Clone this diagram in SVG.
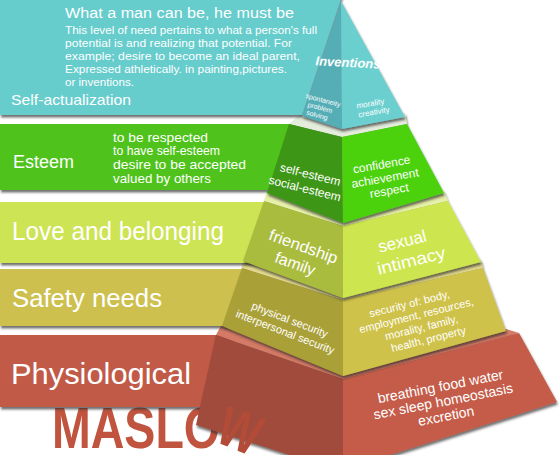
<svg xmlns="http://www.w3.org/2000/svg" width="559" height="455" viewBox="0 0 559 455">
<defs>
<filter id="sh" x="-5%" y="-10%" width="110%" height="130%">
<feDropShadow dx="1" dy="2.5" stdDeviation="1" flood-color="#222" flood-opacity="0.65"/>
</filter>
<clipPath id="below"><rect x="0" y="407" width="559" height="48"/></clipPath>
</defs>
<style>
text{font-family:"Liberation Sans",Arial,sans-serif;fill:#fff}
.lbl{font-size:25px}
.face{font-size:11px}
.mid{text-anchor:middle}
</style>
<rect width="559" height="455" fill="#fff"/>

<g id="maslow">
<text x="52" y="448" font-size="57" font-weight="bold" textLength="168" lengthAdjust="spacingAndGlyphs" style="fill:#c0543f">MASLO</text>
</g>

<g id="physiological">
<rect x="0" y="335" width="230" height="72" fill="#c15a46" filter="url(#sh)"/>
<text class="lbl" x="11" y="384" textLength="180" lengthAdjust="spacingAndGlyphs" style="font-size:29px">Physiological</text>
<g filter="url(#sh)">
<polygon points="216,335 222,324 506,329 519,333 343,379" fill="#d47a66"/>
<polygon points="216,335 343,379 343,472 196,425" fill="#a04b3a"/>
<polygon points="343,379 519,333 557,402 343,470" fill="#c45c48"/>
</g>
<g transform="rotate(-11 443 400)">
<text class="mid" x="443" y="391" style="font-size:14px">breathing food water</text>
<text class="mid" x="443" y="406" style="font-size:14px">sex sleep homeostasis</text>
<text class="mid" x="443" y="421" style="font-size:14px">excretion</text>
</g>
<g clip-path="url(#below)">
<text x="240" y="450" transform="rotate(22 240 430)" text-anchor="middle" font-size="57" font-weight="bold" textLength="42" lengthAdjust="spacingAndGlyphs" style="fill:#b24b37">W</text>
</g>
</g>

<g id="safety">
<rect x="0" y="269" width="250" height="57" fill="#cdc050" filter="url(#sh)"/>
<text class="lbl" x="12" y="307" textLength="150" lengthAdjust="spacingAndGlyphs">Safety needs</text>
<g filter="url(#sh)">
<polygon points="242,268 243,259 481,260 483,268 343,300" fill="#e2d98e"/>
<polygon points="242,268 343,300 343,376 222,326" fill="#aaa037"/>
<polygon points="343,300 483,268 506,331 343,376" fill="#cfc24c"/>
</g>
<g transform="rotate(21 287 327)">
<text class="face mid" x="287" y="323">physical security</text>
<text class="face mid" x="287" y="336">interpersonal security</text>
</g>
<g transform="rotate(-14 418 322)">
<text class="face mid" x="414" y="306">security of: body,</text>
<text class="face mid" x="418" y="319">employment, resources,</text>
<text class="face mid" x="420" y="332">morality, family,</text>
<text class="face mid" x="424" y="345">health, property</text>
</g>
</g>

<g id="love">
<rect x="0" y="202" width="270" height="61" fill="#cde455" filter="url(#sh)"/>
<text class="lbl" x="12" y="240" textLength="212" lengthAdjust="spacingAndGlyphs">Love and belonging</text>
<g filter="url(#sh)">
<polygon points="264,201 267,191 444,191 448,201 343,226" fill="#e6f0a8"/>
<polygon points="264,201 343,226 343,298 243,261" fill="#aabc3c"/>
<polygon points="343,226 448,201 481,262 343,298" fill="#cde64f"/>
</g>
<g transform="rotate(20 299 256)">
<text class="mid" x="300" y="251" style="font-size:16px" textLength="72" lengthAdjust="spacingAndGlyphs">friendship</text>
<text class="mid" x="298" y="270" style="font-size:16px">family</text>
</g>
<g transform="rotate(-14 408 252)">
<text class="mid" x="405" y="246" style="font-size:17px">sexual</text>
<text class="mid" x="409" y="267" style="font-size:17px" textLength="70" lengthAdjust="spacingAndGlyphs">intimacy</text>
</g>
</g>

<g id="esteem">
<rect x="0" y="124" width="300" height="66" fill="#50c31e" filter="url(#sh)"/>
<text x="13" y="168" style="font-size:18px" textLength="61" lengthAdjust="spacingAndGlyphs">Esteem</text>
<text x="113" y="142" style="font-size:12px" textLength="95" lengthAdjust="spacingAndGlyphs">to be respected</text>
<text x="113" y="155" style="font-size:12px" textLength="107" lengthAdjust="spacingAndGlyphs">to have self-esteem</text>
<text x="113" y="169" style="font-size:12px" textLength="133" lengthAdjust="spacingAndGlyphs">desire to be accepted</text>
<text x="113" y="183" style="font-size:12px" textLength="98" lengthAdjust="spacingAndGlyphs">valued by others</text>
<g filter="url(#sh)">
<polygon points="289,124 302,113 405,113 407,124 342,137" fill="#e4ecdc"/>
<polygon points="289,124 342,137 343,223 267,193" fill="#3c9614"/>
<polygon points="342,137 407,124 444,193 343,223" fill="#4bd20a"/>
</g>
<g transform="rotate(14 307 184)">
<text class="mid" x="308" y="178" style="font-size:12px">self-esteem</text>
<text class="mid" x="306" y="193" style="font-size:12px">social-esteem</text>
</g>
<g transform="rotate(-10 386 178)">
<text class="mid" x="384" y="168" style="font-size:12px">confidence</text>
<text class="mid" x="385" y="182" style="font-size:12px">achievement</text>
<text class="mid" x="387" y="195" style="font-size:12px">respect</text>
</g>
</g>

<g id="self-actualization">
<polygon points="0,-4 342,-4 302,115 0,115" fill="#66cccc" filter="url(#sh)"/>
<text x="65" y="18" style="font-size:14px" textLength="229" lengthAdjust="spacingAndGlyphs">What a man can be, he must be</text>
<text x="65" y="34" style="font-size:10.5px" textLength="252" lengthAdjust="spacingAndGlyphs">This level of need pertains to what a person's full</text>
<text x="65" y="47" style="font-size:10.5px" textLength="227" lengthAdjust="spacingAndGlyphs">potential is and realizing that potential. For</text>
<text x="65" y="60" style="font-size:10.5px" textLength="235" lengthAdjust="spacingAndGlyphs">example; desire to become an ideal parent,</text>
<text x="65" y="73" style="font-size:10.5px" textLength="222" lengthAdjust="spacingAndGlyphs">Expressed athletically. in painting,pictures.</text>
<text x="65" y="86" style="font-size:10.5px" textLength="69" lengthAdjust="spacingAndGlyphs">or inventions.</text>
<text x="11" y="105" style="font-size:14.5px" textLength="120" lengthAdjust="spacingAndGlyphs">Self-actualization</text>
<g filter="url(#sh)">
<polygon points="341,1 302,116 342,129" fill="#54aeb6"/>
<polygon points="341,1 342,129 405,117" fill="#6ccfcf"/>
</g>
<text class="mid" x="348" y="67" transform="rotate(3 348 63)" style="font-size:13px;font-weight:bold;font-style:italic">Inventions</text>
<g transform="rotate(15 320 108)">
<text class="mid" x="321" y="102" style="font-size:7px">spontaneity</text>
<text class="mid" x="320" y="110" style="font-size:7px">problem</text>
<text class="mid" x="319" y="118" style="font-size:7px">solving</text>
</g>
<g transform="rotate(-10 372 107)">
<text class="mid" x="371" y="106" style="font-size:8px">morality</text>
<text class="mid" x="373" y="115" style="font-size:8px">creativity</text>
</g>
</g>
</svg>
